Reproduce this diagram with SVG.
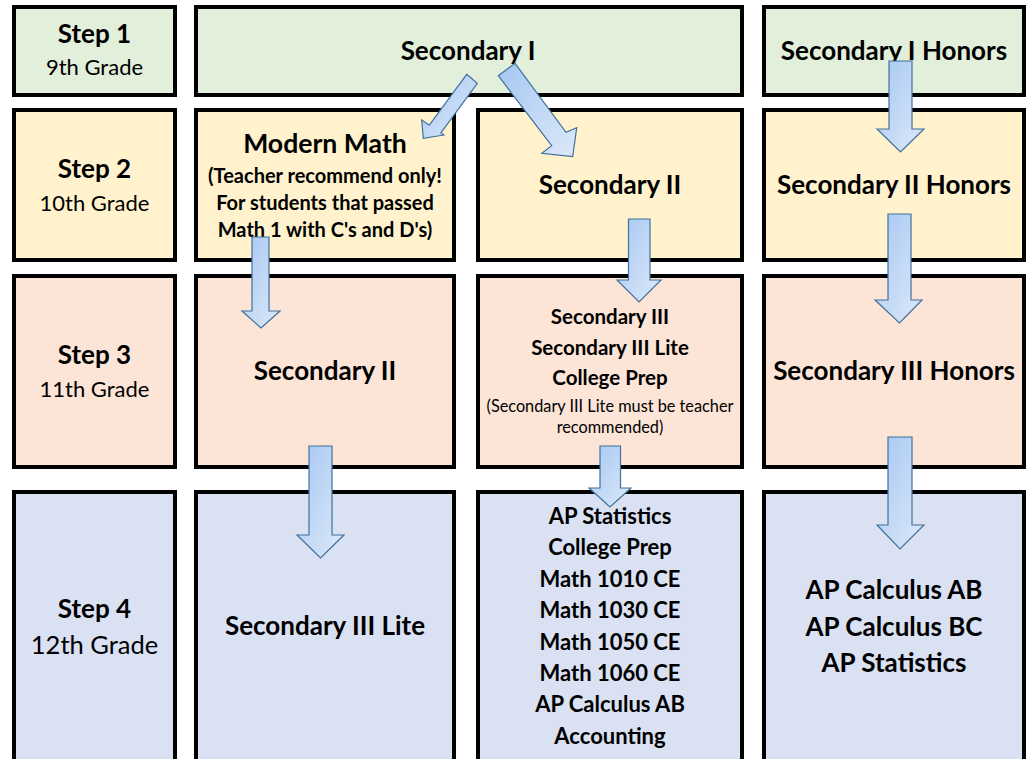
<svg xmlns="http://www.w3.org/2000/svg" width="1029" height="759" viewBox="0 0 1029 759">
<style>
.box{stroke:#000;stroke-width:4}
.r1{fill:#E2EFDA}.r2{fill:#FFF2CC}.r3{fill:#FCE4D6}.r4{fill:#D9E1F2}
text{font-family:Lato,"Liberation Sans",sans-serif;fill:#000;text-anchor:middle}
.b{font-weight:bold}
.h{font-size:26px}
.g{font-size:22px}
.g2{font-size:25.5px}
.mm{font-size:26.6px}
.s{font-size:20px}
.m{font-size:20.5px}
.t{font-size:16.3px}
.l{font-size:22px}
.arrow{fill:url(#ag);stroke:#41719C;stroke-width:1.2;stroke-linejoin:miter}
</style>
<defs>
<linearGradient id="ag" x1="0" y1="0" x2="1" y2="1">
<stop offset="0" stop-color="#A6C7F2"/>
<stop offset="1" stop-color="#DDE9F9"/>
</linearGradient>
</defs>
<rect width="1029" height="759" fill="#fff"/>
<g id="step1"><rect class="box r1" x="14" y="7" width="161" height="88"/>
<text class="b h" x="94.5" y="43">Step 1</text><text class="g" x="94.5" y="75">9th Grade</text></g>
<g id="step2"><rect class="box r2" x="14" y="110" width="161" height="150"/>
<text class="b h" x="94.5" y="178">Step 2</text><text class="g" x="94.5" y="211">10th Grade</text></g>
<g id="step3"><rect class="box r3" x="14" y="276" width="161" height="191"/>
<text class="b h" x="94.5" y="364">Step 3</text><text class="g" x="94.5" y="397">11th Grade</text></g>
<g id="step4"><rect class="box r4" x="14" y="492" width="161" height="280"/>
<text class="b h" x="94.5" y="618">Step 4</text><text class="g2" x="94.5" y="654">12th Grade</text></g>
<g id="sec1"><rect class="box r1" x="196" y="7" width="546" height="88"/>
<text class="b h" x="468" y="60">Secondary I</text></g>
<g id="sec1h"><rect class="box r1" x="764" y="7" width="260" height="88"/>
<text class="b h" x="894" y="60">Secondary I Honors</text></g>
<g id="modern"><rect class="box r2" x="196" y="110" width="258" height="150"/>
<text class="b mm" x="325" y="153">Modern Math</text>
<text class="b s" x="325" y="183">(Teacher recommend only!</text>
<text class="b s" x="325" y="210">For students that passed</text>
<text class="b s" x="325" y="237">Math 1 with C's and D's)</text></g>
<g id="sec2"><rect class="box r2" x="478" y="110" width="264" height="150"/>
<text class="b h" x="610" y="194">Secondary II</text></g>
<g id="sec2h"><rect class="box r2" x="764" y="110" width="260" height="150"/>
<text class="b h" x="894" y="194">Secondary II Honors</text></g>
<g id="sec2b"><rect class="box r3" x="196" y="276" width="258" height="191"/>
<text class="b h" x="325" y="380">Secondary II</text></g>
<g id="sec3"><rect class="box r3" x="478" y="276" width="264" height="191"/>
<text class="b m" x="610" y="324">Secondary III</text>
<text class="b m" x="610" y="355">Secondary III Lite</text>
<text class="b m" x="610" y="385">College Prep</text>
<text class="t" x="610" y="412">(Secondary III Lite must be teacher</text>
<text class="t" x="610" y="433">recommended)</text></g>
<g id="sec3h"><rect class="box r3" x="764" y="276" width="260" height="191"/>
<text class="b h" x="894" y="380">Secondary III Honors</text></g>
<g id="sec3lite"><rect class="box r4" x="196" y="492" width="258" height="280"/>
<text class="b h" x="325" y="635">Secondary III Lite</text></g>
<g id="senior"><rect class="box r4" x="478" y="492" width="264" height="280"/>
<text class="b l" x="610" y="524">AP Statistics</text>
<text class="b l" x="610" y="555.4">College Prep</text>
<text class="b l" x="610" y="586.8">Math 1010 CE</text>
<text class="b l" x="610" y="618.2">Math 1030 CE</text>
<text class="b l" x="610" y="649.6">Math 1050 CE</text>
<text class="b l" x="610" y="681">Math 1060 CE</text>
<text class="b l" x="610" y="712.4">AP Calculus AB</text>
<text class="b l" x="610" y="743.8">Accounting</text></g>
<g id="seniorh"><rect class="box r4" x="764" y="492" width="260" height="280"/>
<text class="b h" x="894" y="599">AP Calculus AB</text>
<text class="b h" x="894" y="636">AP Calculus BC</text>
<text class="b h" x="894" y="672">AP Statistics</text></g>
<g id="connectors">
<polygon class="arrow" points="466.7,74.3 477.3,83.3 440.9,132.9 444,135 423.3,138.3 421.7,120 429.3,125.2"/>
<polygon class="arrow" points="498.3,75.7 515,63.3 566,132.3 576.7,127.7 572.7,156.7 541.7,153.3 551.7,145.7"/>
<polygon class="arrow" points="889,61 912,61 912,129 924,129 900.5,152 877,129 889,129"/>
<polygon class="arrow" points="888,214 911,214 911,300 922,300 899.5,323 875,300 888,300"/>
<polygon class="arrow" points="888,437 912,437 912,525 924,525 900,549 877,525 888,525"/>
<polygon class="arrow" points="628.5,219 650,219 650,280 661,280 639,302 617,280 628.5,280"/>
<polygon class="arrow" points="600,446 620.5,446 620.5,488 631,488 610,507 589,488 600,488"/>
<polygon class="arrow" points="252,237 269,237 269,311 280,311 261,328 242,311 252,311"/>
<polygon class="arrow" points="309,446 332,446 332,535 344,535 320.5,558 297,535 309,535"/>
</g>
</svg>
